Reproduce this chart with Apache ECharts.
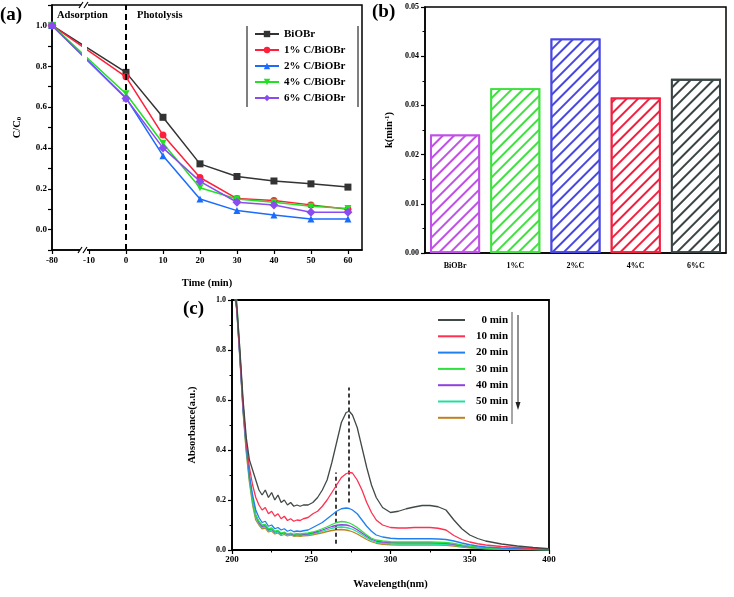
<!DOCTYPE html>
<html><head><meta charset="utf-8">
<script src="https://cdn.jsdelivr.net/npm/echarts@6/dist/echarts.min.js"></script>
<style>html,body{margin:0;padding:0;background:#fff}#c{width:734px;height:597px}</style>
</head><body><div id="c"></div>
<script>
// ---------- Panel (a) ----------
const timeLabels = ['-80','-10','0','10','20','30','40','50','60'];
const seriesNamesA = ['BiOBr','1% C/BiOBr','2% C/BiOBr','4% C/BiOBr','6% C/BiOBr'];
const cBiOBr = [1.0, null, 0.77, 0.55, 0.322, 0.26, 0.238, 0.224, 0.208];
const c1 = [1.0, null, 0.748, 0.463, 0.255, 0.152, 0.142, 0.121, 0.10];
const c2 = [1.0, null, 0.645, 0.362, 0.15, 0.093, 0.072, 0.052, 0.052];
const c4 = [1.0, null, 0.665, 0.423, 0.205, 0.15, 0.134, 0.114, 0.103];
const c6 = [1.0, null, 0.642, 0.40, 0.236, 0.134, 0.12, 0.085, 0.085];
// ---------- Panel (b) ----------
const catsB = ['BiOBr','1%C','2%C','4%C','6%C'];
const kValues = [0.0241, 0.0335, 0.0436, 0.0316, 0.0354];
// ---------- Panel (c) ----------
const wl = [201,203,205,207,209,211,213,215,217,219,221,223,225,227,229,231,233,235,237,239,241,243,245,248,251,254,257,260,263,266,269,272,274,276,279,282,285,288,291,295,300,305,310,315,320,325,330,335,340,345,350,355,360,370,380,390,400];
const namesC = ['0 min','10 min','20 min','30 min','40 min','50 min','60 min'];
const abs0 = [1.05,0.98,0.80,0.60,0.45,0.36,0.32,0.28,0.24,0.22,0.24,0.21,0.23,0.20,0.22,0.19,0.20,0.18,0.19,0.175,0.18,0.175,0.18,0.18,0.19,0.21,0.24,0.28,0.35,0.43,0.51,0.55,0.555,0.54,0.49,0.41,0.33,0.26,0.21,0.17,0.15,0.155,0.165,0.172,0.178,0.178,0.173,0.16,0.12,0.085,0.06,0.046,0.036,0.024,0.016,0.01,0.005];
const abs10 = [1.05,0.97,0.78,0.58,0.43,0.33,0.26,0.21,0.18,0.16,0.17,0.145,0.155,0.135,0.145,0.125,0.135,0.118,0.125,0.115,0.12,0.118,0.125,0.13,0.145,0.155,0.175,0.2,0.23,0.26,0.29,0.305,0.31,0.308,0.28,0.24,0.19,0.15,0.12,0.1,0.09,0.088,0.088,0.09,0.09,0.09,0.087,0.08,0.058,0.042,0.032,0.025,0.02,0.014,0.01,0.006,0.004];
const abs20 = [1.05,0.96,0.77,0.57,0.42,0.30,0.22,0.16,0.13,0.11,0.115,0.095,0.1,0.085,0.09,0.08,0.085,0.075,0.08,0.073,0.076,0.074,0.077,0.08,0.09,0.1,0.11,0.125,0.14,0.155,0.165,0.168,0.166,0.16,0.145,0.12,0.095,0.075,0.06,0.052,0.047,0.045,0.045,0.045,0.045,0.045,0.044,0.042,0.036,0.028,0.021,0.016,0.012,0.008,0.006,0.004,0.003];
const abs30 = [1.1,1.0,0.79,0.58,0.42,0.29,0.2,0.14,0.115,0.1,0.102,0.085,0.088,0.075,0.078,0.068,0.072,0.064,0.068,0.063,0.065,0.064,0.066,0.068,0.072,0.078,0.085,0.093,0.102,0.11,0.114,0.112,0.108,0.102,0.09,0.075,0.06,0.047,0.04,0.036,0.033,0.032,0.032,0.032,0.032,0.032,0.031,0.03,0.026,0.02,0.015,0.011,0.008,0.005,0.004,0.003,0.002];
const abs40 = [1.05,0.97,0.77,0.56,0.41,0.29,0.2,0.14,0.11,0.095,0.098,0.08,0.085,0.072,0.076,0.065,0.07,0.062,0.066,0.06,0.063,0.061,0.063,0.065,0.069,0.074,0.08,0.087,0.094,0.099,0.101,0.1,0.097,0.092,0.081,0.068,0.055,0.043,0.036,0.032,0.03,0.029,0.029,0.029,0.029,0.029,0.028,0.027,0.023,0.018,0.013,0.01,0.008,0.005,0.004,0.003,0.002];
const abs50 = [1.05,0.97,0.77,0.56,0.40,0.28,0.19,0.13,0.105,0.09,0.093,0.076,0.08,0.068,0.072,0.062,0.066,0.059,0.063,0.057,0.06,0.058,0.06,0.062,0.065,0.07,0.075,0.081,0.087,0.091,0.092,0.09,0.087,0.083,0.073,0.061,0.049,0.038,0.031,0.027,0.025,0.024,0.024,0.024,0.024,0.024,0.023,0.022,0.019,0.015,0.011,0.008,0.006,0.004,0.003,0.002,0.001];
const abs60 = [1.05,0.96,0.76,0.55,0.39,0.27,0.18,0.12,0.1,0.085,0.088,0.072,0.076,0.064,0.068,0.058,0.062,0.056,0.06,0.055,0.057,0.055,0.057,0.058,0.061,0.065,0.069,0.074,0.078,0.081,0.082,0.08,0.077,0.073,0.064,0.053,0.042,0.033,0.027,0.023,0.021,0.02,0.02,0.02,0.02,0.02,0.02,0.019,0.016,0.012,0.009,0.007,0.005,0.003,0.002,0.002,0.001];

const FONT = "'Liberation Serif','Times New Roman',serif";
const colorsA = ['#333333','#ff1f3a','#1a6cff','#22e022','#8a4cf0'];
const symbolsA = ['rect','circle','triangle','path://M0,0 L10,0 L5,9 Z','diamond'];
const colorsB = ['#c050e8','#40e040','#4848e0','#f02040','#3a4444'];
const colorsC = ['#404848','#ff3050','#2080f0','#30e040','#9040e0','#20e0a0','#c08020'];
const dataA = [cBiOBr, c1, c2, c4, c6];
const dataC = [abs0, abs10, abs20, abs30, abs40, abs50, abs60];

const tickFont = {fontFamily: FONT, fontWeight: 'bold', fontSize: 9, color: '#000'};
const nameFont = {fontFamily: FONT, fontWeight: 'bold', fontSize: 10.5, color: '#000'};

function axisBase() {
  return {
    axisLine: {show: true, onZero: false, lineStyle: {color: '#000', width: 1.5}},
    axisTick: {show: true, inside: false, length: 4, lineStyle: {color: '#000', width: 1.2}},
    splitLine: {show: false},
    axisLabel: Object.assign({margin: 5}, tickFont)
  };
}

const series = [];
dataA.forEach((arr, i) => {
  const s = {
    name: seriesNamesA[i], type: 'line', xAxisIndex: 0, yAxisIndex: 0,
    data: arr.map((v, j) => [j, v]), connectNulls: true,
    symbol: symbolsA[i], symbolSize: i === 4 ? 9 : 7,
    lineStyle: {color: colorsA[i], width: 1.5}, itemStyle: {color: colorsA[i]},
    z: 3 + i
  };
  if (i === 0) {
    s.markLine = {silent: true, symbol: 'none', label: {show: false},
      lineStyle: {color: '#000', type: [6, 4], width: 2},
      data: [{xAxis: 2}]};
  }
  series.push(s);
});
series.push({
  type: 'bar', xAxisIndex: 1, yAxisIndex: 1, barWidth: 50,
  data: kValues.map((v, i) => ({value: v, itemStyle: {
    color: '#fff', borderColor: colorsB[i], borderWidth: 1.8,
    decal: {symbol: 'rect', symbolSize: 1, dashArrayX: [1, 0], dashArrayY: [1.2, 6], rotation: -Math.PI / 4, color: colorsB[i]}
  }}))
});
dataC.forEach((arr, i) => {
  const s = {
    name: namesC[i], type: 'line', xAxisIndex: 2, yAxisIndex: 2,
    data: arr.map((v, j) => [wl[j], v]), showSymbol: false, symbol: 'none',
    lineStyle: {color: colorsC[i], width: 1.3}, itemStyle: {color: colorsC[i]},
    z: 10 - i
  };
  if (i === 0) {
    s.markLine = {silent: true, symbol: 'none', label: {show: false},
      lineStyle: {color: '#000', type: [4, 3], width: 1.5},
      data: [[{coord: [273.5, 0.19]}, {coord: [273.5, 0.65]}], [{coord: [265.5, 0.025]}, {coord: [265.5, 0.31]}]]};
  }
  series.push(s);
});

const option = {
  animation: false,
  backgroundColor: '#fff',
  grid: [
    {left: 52, top: 5, width: 310, height: 245, show: true, borderColor: '#000', borderWidth: 1.5, backgroundColor: 'transparent'},
    {left: 425, top: 7, width: 301, height: 246, show: true, borderColor: '#000', borderWidth: 1.5, backgroundColor: 'transparent'},
    {left: 232, top: 300, width: 317, height: 250, show: true, borderColor: '#000', borderWidth: 1.8, backgroundColor: 'transparent'}
  ],
  xAxis: [
    Object.assign(axisBase(), {gridIndex: 0, type: 'value', min: 0, max: 8.38, interval: 1,
      name: 'Time (min)', nameLocation: 'middle', nameGap: 28, nameTextStyle: nameFont,
      axisLabel: Object.assign({margin: 6, showMaxLabel: false, formatter: v => Number.isInteger(v) ? timeLabels[v] : ''}, tickFont)}),
    Object.assign(axisBase(), {gridIndex: 1, type: 'category', data: catsB,
      axisTick: {show: false}, axisLabel: Object.assign({margin: 9}, tickFont, {fontSize: 8})}),
    Object.assign(axisBase(), {gridIndex: 2, type: 'value', min: 200, max: 400, interval: 50,
      minorTick: {show: true, splitNumber: 2, length: 2.5, lineStyle: {color: '#000'}},
      name: 'Wavelength(nm)', nameLocation: 'middle', nameGap: 29, nameTextStyle: nameFont})
  ],
  yAxis: [
    Object.assign(axisBase(), {gridIndex: 0, type: 'value', min: -0.1, max: 1.1, interval: 0.1,
      name: 'C/C{s|0}', nameLocation: 'middle', nameGap: 29, nameRotate: 90,
      nameTextStyle: Object.assign({}, nameFont, {rich: {s: {fontFamily: FONT, fontWeight: 'bold', fontSize: 7, verticalAlign: 'bottom', padding: [0, 0, 0, 0]}}}),
      axisLabel: Object.assign({margin: 5, formatter: v => { const k = Math.round(v * 10); return (k % 2 === 0) ? (k / 10).toFixed(1) : ''; }}, tickFont)}),
    Object.assign(axisBase(), {gridIndex: 1, type: 'value', min: 0, max: 0.05, interval: 0.01,
      minorTick: {show: true, splitNumber: 2, length: 2.5, lineStyle: {color: '#000'}},
      name: 'k(min{s|-1})', nameLocation: 'middle', nameGap: 30, nameRotate: 90,
      nameTextStyle: Object.assign({}, nameFont, {rich: {s: {fontFamily: FONT, fontWeight: 'bold', fontSize: 7, verticalAlign: 'top'}}}),
      axisLabel: Object.assign({margin: 6, formatter: v => v.toFixed(2)}, tickFont, {fontSize: 8})}),
    Object.assign(axisBase(), {gridIndex: 2, type: 'value', min: 0, max: 1.0, interval: 0.2,
      minorTick: {show: true, splitNumber: 2, length: 2.5, lineStyle: {color: '#000'}},
      name: 'Absorbance(a.u.)', nameLocation: 'middle', nameGap: 34, nameRotate: 90, nameTextStyle: nameFont,
      axisLabel: Object.assign({margin: 6, formatter: v => v.toFixed(1)}, tickFont, {fontSize: 8})})
  ],
  legend: [
    {data: seriesNamesA, orient: 'vertical', left: 249, top: 23, itemWidth: 24, itemHeight: 8, itemGap: 4,
      textStyle: {fontFamily: FONT, fontWeight: 'bold', fontSize: 11, color: '#000', lineHeight: 12}},
    {data: namesC.map(n => ({name: n, icon: 'rect'})), orient: 'vertical', left: 433, top: 309, itemWidth: 27, itemHeight: 2, itemGap: 4.3,
      formatter: n => '{r|' + n + '}',
      textStyle: {fontFamily: FONT, fontWeight: 'bold', fontSize: 11, color: '#000', lineHeight: 12,
        rich: {r: {fontFamily: FONT, fontWeight: 'bold', fontSize: 11, color: '#000', lineHeight: 12, width: 38, align: 'right'}}}}
  ],
  series: series,
  graphic: [
    {type: 'text', left: 0, top: 6, style: {text: '(a)', font: "bold 19px 'Liberation Serif', serif", fill: '#000'}},
    {type: 'text', left: 372, top: 3, style: {text: '(b)', font: "bold 19px 'Liberation Serif', serif", fill: '#000'}},
    {type: 'text', left: 183, top: 300, style: {text: '(c)', font: "bold 19px 'Liberation Serif', serif", fill: '#000'}},
    {type: 'text', left: 57, top: 10, style: {text: 'Adsorption', font: "bold 10.5px 'Liberation Serif', serif", fill: '#000'}},
    {type: 'text', left: 137, top: 10, style: {text: 'Photolysis', font: "bold 10.5px 'Liberation Serif', serif", fill: '#000'}},
    // legend (a) side lines
    {type: 'line', shape: {x1: 247, y1: 26, x2: 247, y2: 107}, style: {stroke: '#000', lineWidth: 1}},
    {type: 'line', shape: {x1: 358, y1: 26, x2: 358, y2: 107}, style: {stroke: '#000', lineWidth: 1}},
    // axis break (a)
    {type: 'polygon', shape: {points: [[82, 30], [87, 30], [87, 72], [82, 72]]}, style: {fill: '#fff'}, z: 100},
    {type: 'rect', shape: {x: 81, y: 2, width: 7, height: 6}, style: {fill: '#fff'}, z: 100},
    {type: 'rect', shape: {x: 80, y: 247, width: 7, height: 6}, style: {fill: '#fff'}, z: 100},
    {type: 'line', shape: {x1: 79, y1: 8, x2: 83, y2: 2}, style: {stroke: '#000', lineWidth: 1.2}, z: 101},
    {type: 'line', shape: {x1: 84, y1: 8, x2: 88, y2: 2}, style: {stroke: '#000', lineWidth: 1.2}, z: 101},
    {type: 'line', shape: {x1: 78, y1: 253, x2: 82, y2: 247}, style: {stroke: '#000', lineWidth: 1.2}, z: 101},
    {type: 'line', shape: {x1: 83, y1: 253, x2: 87, y2: 247}, style: {stroke: '#000', lineWidth: 1.2}, z: 101},
    // legend (c) bar and arrow
    {type: 'line', shape: {x1: 512, y1: 312, x2: 512, y2: 424}, style: {stroke: '#888', lineWidth: 1.5}},
    {type: 'line', shape: {x1: 518, y1: 315, x2: 518, y2: 404}, style: {stroke: '#222', lineWidth: 1}},
    {type: 'polygon', shape: {points: [[515.5, 402], [520.5, 402], [518, 410]]}, style: {fill: '#222'}}
  ]
};
const chart = echarts.init(document.getElementById('c'), null, {renderer: 'canvas'});
chart.setOption(option);
</script></body></html>
